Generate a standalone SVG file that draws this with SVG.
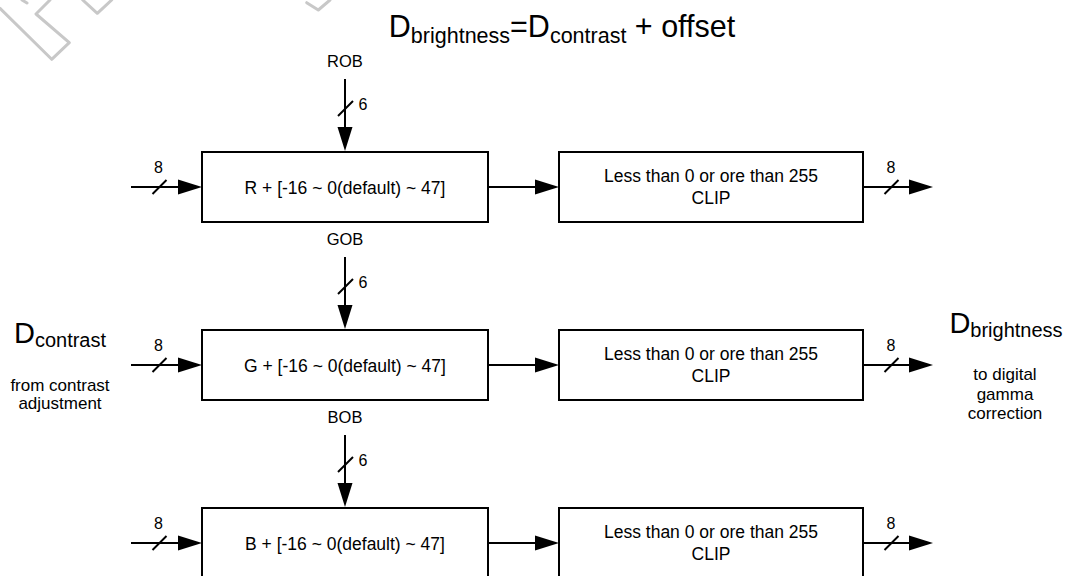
<svg xmlns="http://www.w3.org/2000/svg" width="1066" height="576" viewBox="0 0 1066 576">
<style>
text{font-family:"Liberation Sans",Arial,sans-serif;fill:#000}
.box{fill:#fff;stroke:#000;stroke-width:2}
.ln{stroke:#000;stroke-width:2;fill:none}
.wm{stroke:#c8c8c8;stroke-width:3;fill:none;stroke-linejoin:round;stroke-linecap:round}
.bt{font-size:17.5px;text-anchor:middle}
.lb{font-size:16.5px;text-anchor:middle}
.sl{font-size:17px;text-anchor:middle}
.num{font-size:16px;text-anchor:middle}
</style>
<defs>
<marker id="ah" markerUnits="userSpaceOnUse" markerWidth="24" markerHeight="15" refX="0" refY="7.5" orient="auto" overflow="visible">
<path d="M0,0 L24,7.5 L0,15 Z" fill="#000"/>
</marker>
</defs>
<rect width="1066" height="576" fill="#fff"/>
<g id="watermark">
<polyline class="wm" points="0,8.3 51.7,59.3 69.3,42.7 36,14 50,0"/>
<polyline class="wm" points="82.7,0 97.3,13.3 111.7,0"/>
<polyline class="wm" points="306.7,2.7 318.3,10 330,0"/>
<polyline class="wm" points="22,0 27,3"/>
</g>
<g id="title">
<text x="562" y="37" font-size="30.5" text-anchor="middle">D<tspan font-size="21.5" dy="5.5">brightness</tspan><tspan dy="-5.5">=D</tspan><tspan font-size="21.5" dy="5.5">contrast</tspan><tspan dy="-5.5"> + offset</tspan></text>
</g>
<g id="input-label">
<text x="60" y="343" font-size="29" text-anchor="middle">D<tspan font-size="20" dy="4">contrast</tspan></text>
<text x="60" y="390.5" class="sl">from contrast</text>
<text x="60" y="409" class="sl">adjustment</text>
</g>
<g id="output-label">
<text x="1006" y="333" font-size="29" text-anchor="middle">D<tspan font-size="20" dy="4">brightness</tspan></text>
<text x="1005" y="380" class="sl">to digital</text>
<text x="1005" y="399.5" class="sl">gamma</text>
<text x="1005" y="419" class="sl">correction</text>
</g>
<g id="offset-R"><rect class="box" x="202" y="152" width="286" height="70"/><text class="bt" x="345" y="194">R + [-16 ~ 0(default) ~ 47]</text></g>
<g id="clip-R"><rect class="box" x="559" y="152" width="304" height="70"/><text class="bt" x="711" y="182.3">Less than 0 or ore than 255</text><text class="bt" x="711" y="204">CLIP</text></g>
<g id="offset-G"><rect class="box" x="202" y="330" width="286" height="70"/><text class="bt" x="345" y="372">G + [-16 ~ 0(default) ~ 47]</text></g>
<g id="clip-G"><rect class="box" x="559" y="330" width="304" height="70"/><text class="bt" x="711" y="360.3">Less than 0 or ore than 255</text><text class="bt" x="711" y="382">CLIP</text></g>
<g id="offset-B"><rect class="box" x="202" y="508" width="286" height="70"/><text class="bt" x="345" y="550">B + [-16 ~ 0(default) ~ 47]</text></g>
<g id="clip-B"><rect class="box" x="559" y="508" width="304" height="70"/><text class="bt" x="711" y="538.3">Less than 0 or ore than 255</text><text class="bt" x="711" y="560">CLIP</text></g>
<g id="labels">
<text class="lb" x="345" y="66.7">ROB</text>
<text class="lb" x="345" y="244.7">GOB</text>
<text class="lb" x="345" y="422.7">BOB</text>
</g>
<g id="connectors">
<line class="ln" x1="131" y1="187" x2="178" y2="187" marker-end="url(#ah)"/>
<line class="ln" x1="488" y1="187" x2="535" y2="187" marker-end="url(#ah)"/>
<line class="ln" x1="863" y1="187" x2="909" y2="187" marker-end="url(#ah)"/>
<line class="ln" x1="345" y1="79" x2="345" y2="127" marker-end="url(#ah)"/>
<line class="ln" x1="131" y1="365" x2="178" y2="365" marker-end="url(#ah)"/>
<line class="ln" x1="488" y1="365" x2="535" y2="365" marker-end="url(#ah)"/>
<line class="ln" x1="863" y1="365" x2="909" y2="365" marker-end="url(#ah)"/>
<line class="ln" x1="345" y1="257" x2="345" y2="305" marker-end="url(#ah)"/>
<line class="ln" x1="131" y1="543" x2="178" y2="543" marker-end="url(#ah)"/>
<line class="ln" x1="488" y1="543" x2="535" y2="543" marker-end="url(#ah)"/>
<line class="ln" x1="863" y1="543" x2="909" y2="543" marker-end="url(#ah)"/>
<line class="ln" x1="345" y1="435" x2="345" y2="483" marker-end="url(#ah)"/>
<g class="ln">
<line x1="152.5" y1="194" x2="166.5" y2="180"/>
<line x1="884.5" y1="194" x2="898.5" y2="180"/>
<line x1="338" y1="116" x2="353" y2="101"/>
<line x1="152.5" y1="372" x2="166.5" y2="358"/>
<line x1="884.5" y1="372" x2="898.5" y2="358"/>
<line x1="338" y1="294" x2="353" y2="279"/>
<line x1="152.5" y1="550" x2="166.5" y2="536"/>
<line x1="884.5" y1="550" x2="898.5" y2="536"/>
<line x1="338" y1="472" x2="353" y2="457"/>
</g>
<text class="num" x="158.5" y="173">8</text>
<text class="num" x="891" y="173">8</text>
<text class="num" x="363" y="110">6</text>
<text class="num" x="158.5" y="351">8</text>
<text class="num" x="891" y="351">8</text>
<text class="num" x="363" y="288">6</text>
<text class="num" x="158.5" y="529">8</text>
<text class="num" x="891" y="529">8</text>
<text class="num" x="363" y="466">6</text>
</g>
</svg>
